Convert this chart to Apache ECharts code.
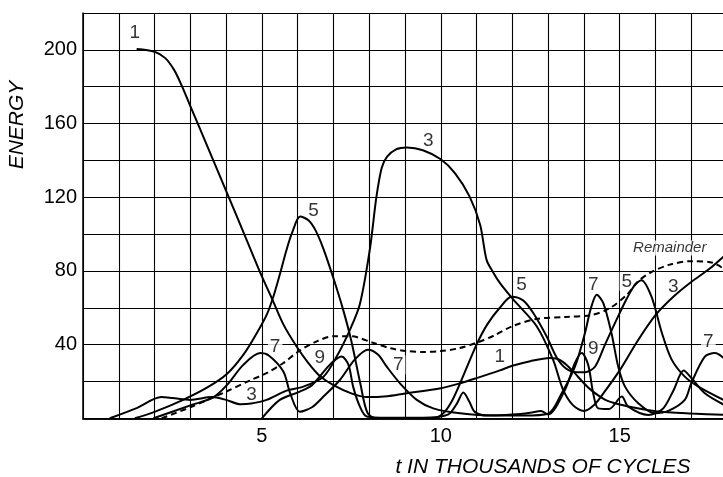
<!DOCTYPE html>
<html><head><meta charset="utf-8">
<script src="https://cdn.jsdelivr.net/npm/echarts@6/dist/echarts.min.js"></script>
<style>html,body{margin:0;padding:0;background:#fff}#c{width:723px;height:477px}</style>
</head><body><div id="c"></div>
<script>
const xTickLabels = [5, 10, 15];
const yTickLabels = [40, 80, 120, 160, 200];

const mode1 = [[1.5,200.5],[2.0,199],[2.3,195.5],[2.55,189],[2.75,181],[3.0,169.5],[3.5,146.5],[4.0,123.5],[4.57,97],[5.0,77],[5.27,65.5],[5.6,51],[5.97,39],[6.3,30],[6.62,23],[7.0,18],[7.5,13.5],[7.93,11.5],[8.5,12],[9.0,13.5],[10.0,16.3],[10.54,19],[11.0,21.8],[11.65,26],[12.0,28.5],[12.5,31],[13.05,32.7],[13.35,31.5],[13.66,26.3],[14.0,19],[14.22,15],[14.6,10],[15.0,7.5],[15.5,5.4],[16.0,3.8],[17.0,2.6],[18.0,1.8]];

const mode3 = [[0.75,0],[1.5,5.5],[2.19,11.5],[2.5,11],[3.0,10],[3.6,11.5],[4.0,10],[4.4,7.6],[4.7,8],[5.13,10],[5.69,15],[6.16,17.2],[6.72,22.6],[7.09,33.5],[7.46,48],[7.74,62],[8.02,92],[8.2,120],[8.35,136],[8.5,142],[8.75,146],[9.05,147],[9.5,145.5],[10.0,140.6],[10.4,133],[10.8,120.6],[11.1,105],[11.28,86],[11.47,79],[11.65,73.5],[12.03,64.4],[12.68,50],[13.14,31.7],[13.42,15.4],[13.7,7],[14.0,4],[14.3,7.5],[14.6,15],[15.0,26],[15.5,42],[16.0,56],[16.5,66],[17.0,74],[17.5,81],[18.0,89.5]];

const mode5 = [[1.45,0],[2.0,3.5],[2.8,10],[3.5,17],[4.02,24],[4.5,35],[4.85,46],[5.13,56],[5.32,66],[5.5,78],[5.69,91.5],[5.85,101],[6.07,109.5],[6.3,107.5],[6.5,102],[6.72,92],[7.0,76],[7.27,59],[7.5,42],[7.75,19],[7.95,3],[8.2,0],[9.0,0],[9.8,0],[10.07,2.7],[10.3,9],[10.54,19],[11.0,40],[11.3,51],[11.65,60],[11.98,66],[12.3,64],[12.59,57],[12.96,44.4],[13.24,33],[13.5,27],[13.8,25],[14.03,25],[14.31,28],[14.59,40],[14.9,53],[15.2,65],[15.43,72.5],[15.61,75],[15.89,66],[16.17,47],[16.45,32],[16.82,22.6],[17.2,17.2],[18.0,9]];

const mode7 = [[1.97,0],[3.0,7],[3.64,11.4],[4.02,18],[4.48,29],[4.95,35.4],[5.2,34],[5.6,25.4],[5.79,13.6],[6.06,3.6],[6.4,6],[6.72,11.8],[7.18,20.8],[7.6,32],[7.97,37.2],[8.25,34.5],[8.49,28],[8.86,19],[9.33,10],[9.79,5.4],[10.54,2.7],[11.5,1.5],[12.3,1.5],[13.0,2.5],[13.38,13.6],[13.75,28],[14.03,46.3],[14.2,60],[14.36,67],[14.54,62.6],[14.77,46.3],[14.96,28],[15.15,17.2],[15.52,8.2],[15.99,2.7],[16.36,4],[16.82,10],[17.0,19],[17.38,33.5],[17.66,35.4],[18.0,31]];

const mode9 = [[5.0,0],[5.5,10],[6.06,14.5],[6.4,18],[6.8,27],[7.0,31],[7.23,33.5],[7.42,29],[7.55,17.2],[7.74,6.3],[7.93,1],[8.5,0.3],[9.5,0.3],[10.2,2],[10.45,8],[10.63,14],[10.8,9],[10.95,3.5],[11.3,1.5],[12.0,2],[12.5,3],[12.8,4],[13.0,2],[13.47,15.4],[13.75,30],[13.94,35.4],[14.12,29],[14.26,13.6],[14.4,5.4],[14.7,5],[15.06,11.8],[15.24,6.3],[15.8,1.8],[16.2,5],[16.5,15],[16.79,25.9],[17.0,22],[17.38,13.6],[18.0,6.5]];

const remainder = [[2.2,0],[3.0,6],[4.0,14.5],[4.66,20.5],[5.13,24.5],[5.6,30],[6.0,36],[6.5,41.5],[7.0,44.5],[7.5,44.5],[8.1,41],[8.6,38],[9.05,36.5],[9.5,36],[10.0,36.5],[10.5,38],[11.0,41],[11.5,45],[12.0,50],[12.7,54],[13.5,55],[14.2,56],[14.7,59.5],[15.2,67],[15.5,74],[15.85,79],[16.4,83.4],[17.0,85.3],[17.6,84.4],[18.0,80]];

const curveLabels = [[1.45,209,'1'],[6.44,112.5,'5'],[9.65,150.5,'3'],[5.37,39,'7'],[4.71,12.7,'3'],[6.62,32.6,'9'],[8.81,29,'7'],[12.26,72.5,'5'],[11.65,33.5,'1'],[14.26,72.5,'7'],[15.2,74.3,'5'],[16.5,71.6,'3'],[14.26,38,'9'],[17.48,41.7,'7']];
const remainderLabel = [[16.4,92.5,'Remainder']];

const FONT = '"Liberation Sans", Arial, Helvetica, sans-serif';
const chart = echarts.init(document.getElementById('c'), null, {renderer: 'canvas'});

function curve(name, data, dashed) {
  return {
    name, type: 'line', data, smooth: 0.3, symbol: 'none', clip: true, z: 3,
    lineStyle: {color: '#000', width: 2, type: dashed ? [6, 4] : 'solid'},
    emphasis: {disabled: true}
  };
}

chart.setOption({
  animation: false,
  backgroundColor: '#fff',
  grid: {left: 83, top: 13, width: 644, height: 405.3, outerBoundsMode: 'none', containLabel: false},
  xAxis: [{
    type: 'value', min: 0, max: 18, interval: 1,
    axisLine: {show: true, onZero: false, lineStyle: {color: '#000', width: 1.5}},
    axisTick: {show: false},
    splitLine: {show: true, lineStyle: {color: '#000', width: 1.1}},
    axisLabel: {
      margin: 8, color: '#000', fontSize: 20, fontFamily: FONT,
      formatter: v => xTickLabels.includes(v) ? String(v) : ''
    }
  }, {
    type: 'value', min: 0, max: 18, interval: 1, position: 'top',
    axisLine: {show: true, lineStyle: {color: '#000', width: 1.5}},
    axisTick: {show: false}, axisLabel: {show: false}, splitLine: {show: false}
  }],
  yAxis: {
    type: 'value', min: 0, max: 220, interval: 20,
    axisLine: {show: true, onZero: false, lineStyle: {color: '#000', width: 1.5}},
    axisTick: {show: false},
    splitLine: {show: true, lineStyle: {color: '#000', width: 1.1}},
    axisLabel: {
      margin: 6, color: '#000', fontSize: 20, fontFamily: FONT,
      formatter: v => yTickLabels.includes(v) ? String(v) : ''
    }
  },
  graphic: [
    {type: 'text', x: 17, y: 125, rotation: Math.PI / 2,
     style: {text: 'ENERGY', fontSize: 21, fontStyle: 'italic', fontFamily: FONT, fill: '#000', align: 'center', verticalAlign: 'middle'}},
    {type: 'text', x: 543, y: 467,
     style: {text: 't IN THOUSANDS OF CYCLES', fontSize: 21, fontStyle: 'italic', fontFamily: FONT, fill: '#000', align: 'center', verticalAlign: 'middle'}}
  ],
  series: [
    {
      type: 'scatter', data: curveLabels, symbolSize: 0, z: 2, silent: true,
      label: {show: true, position: 'inside', formatter: p => p.data[2], color: '#000', fontSize: 19, fontFamily: FONT,
        backgroundColor: '#fff', padding: [0, 2]}
    },
    {
      type: 'scatter', data: remainderLabel, symbolSize: 0, z: 2, silent: true,
      label: {show: true, position: 'inside', formatter: p => p.data[2], color: '#000', fontSize: 15, fontStyle: 'italic', fontFamily: FONT,
        backgroundColor: '#fff', padding: [0, 2]}
    },
    curve('1', mode1),
    curve('3', mode3),
    curve('5', mode5),
    curve('7', mode7),
    curve('9', mode9),
    curve('Remainder', remainder, true)
  ]
});
</script>
</body></html>
